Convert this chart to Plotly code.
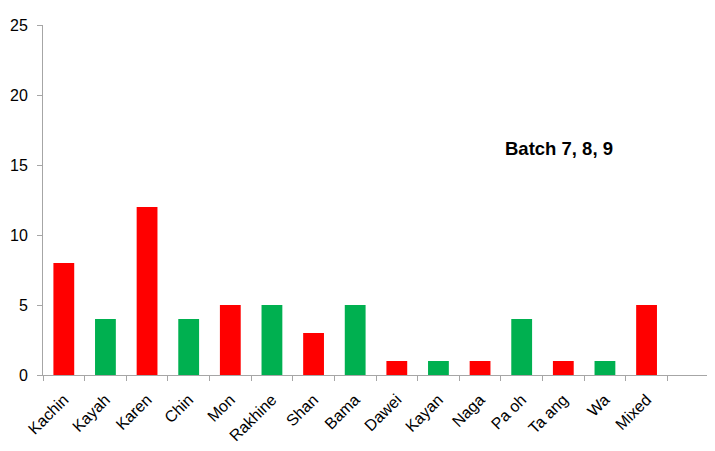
import plotly.graph_objects as go

categories = ["Kachin", "Kayah", "Karen", "Chin", "Mon", "Rakhine", "Shan", "Bama",
              "Dawei", "Kayan", "Naga", "Pa oh", "Ta ang", "Wa", "Mixed"]
values = [8, 4, 12, 4, 5, 5, 3, 5, 1, 1, 1, 4, 1, 1, 5]
bar_colors = ["#FF0000", "#00B050"] * 7 + ["#FF0000"]
y_ticks = [0, 5, 10, 15, 20, 25]
annotation_text = "Batch 7, 8, 9"

axis_cats = categories + [" "]

fig = go.Figure()
fig.add_trace(go.Bar(
    x=axis_cats,
    y=values + [None],
    marker=dict(color=bar_colors + ["#FFFFFF"], line=dict(width=0)),
    showlegend=False,
))

axis_color = "#A6A6A6"
fig.update_layout(
    width=715, height=451,
    margin=dict(l=35, r=14, t=17, b=84),
    paper_bgcolor="white", plot_bgcolor="white",
    bargap=0.5,
    font=dict(family="Liberation Sans, Arial, sans-serif", size=16, color="black"),
    xaxis=dict(
        type="category",
        categoryorder="array", categoryarray=axis_cats,
        range=[-0.5, len(axis_cats) - 0.5],
        tickangle=-45,
        tickson="boundaries",
        ticks="outside", ticklen=5, tickcolor=axis_color, tickwidth=1,
        showline=True, linecolor=axis_color, linewidth=1,
        showgrid=False, zeroline=False,
        tickfont=dict(size=16),
        ticklabelstandoff=8,
        automargin=False,
    ),
    yaxis=dict(
        range=[0, 25],
        tickvals=y_ticks,
        ticks="outside", ticklen=5, tickcolor=axis_color, tickwidth=1,
        showline=True, linecolor=axis_color, linewidth=1,
        showgrid=False, zeroline=False,
        tickfont=dict(size=16),
        ticklabelstandoff=6,
        automargin=False,
    ),
    annotations=[dict(
        x=11.9, y=16.2, xref="x", yref="y",
        text="<b>" + annotation_text + "</b>",
        showarrow=False, font=dict(size=18.5, color="black"),
    )],
)

fig.write_html("out.html")
